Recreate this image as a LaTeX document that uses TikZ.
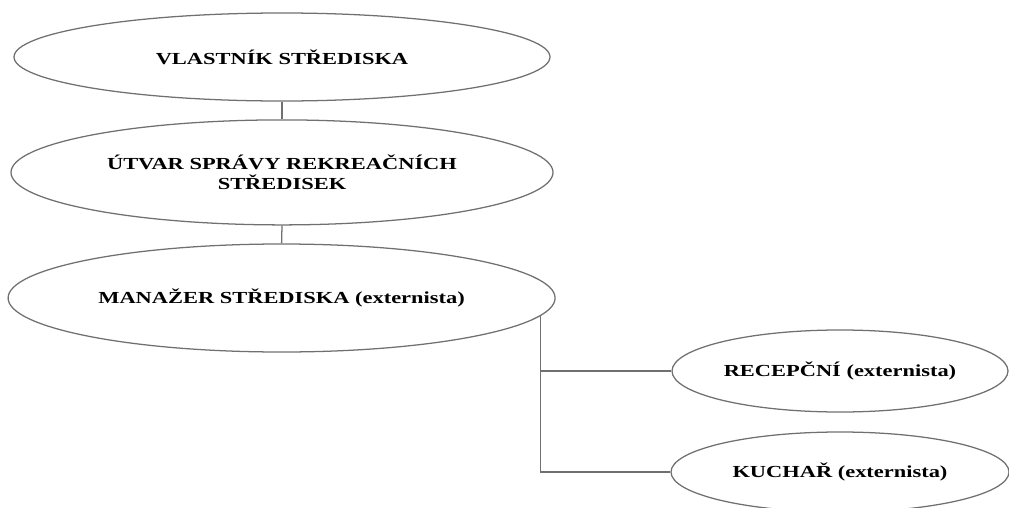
\documentclass[tikz,border=0pt]{standalone}
\usepackage{fontspec}
\setmainfont[FakeStretch=1.33]{Liberation Serif}
\usepackage{xcolor}
\usepackage{tikz}
\usetikzlibrary{shapes.geometric, positioning, calc}
\definecolor{orgline}{HTML}{707070}
\definecolor{orgtext}{HTML}{000000}

\begin{document}
\begin{tikzpicture}[
  x=1cm, y=1cm,
  role/.style={draw=orgline, line width=0.9pt, ellipse, inner sep=0pt, align=center, text=orgtext, font=\bfseries\fontsize{12}{13.8}\selectfont},
  link/.style={draw=orgline, line width=0.9pt}
]
\clip (0,0) rectangle (25.225,-12.7);

\node[role, minimum width=13.4cm, minimum height=2.2cm] (owner) at (7.05,-1.425) {VLASTNÍK STŘEDISKA};
\node[role, minimum width=13.55cm, minimum height=2.625cm] (dept) at (7.05,-4.31) {ÚTVAR SPRÁVY REKREAČNÍCH\\ STŘEDISEK};
\node[role, minimum width=13.675cm, minimum height=2.7cm] (mgr) at (7.04,-7.45) {MANAŽER STŘEDISKA (externista)};

\node[role, minimum width=8.4cm, minimum height=2.05cm] (recep) at (21.0,-9.275) {RECEPČNÍ (externista)};
\node[role, minimum width=8.45cm, minimum height=2.0cm] (cook) at (21.0,-11.8) {KUCHAŘ (externista)};

\draw[link] (owner.south) -- (dept.north);
\draw[link] (dept.south) -- (mgr.north);
\draw[link] (mgr.-4.5) |- (recep.west);
\draw[link] (mgr.-4.5) |- (cook.west);
\end{tikzpicture}
\end{document}
